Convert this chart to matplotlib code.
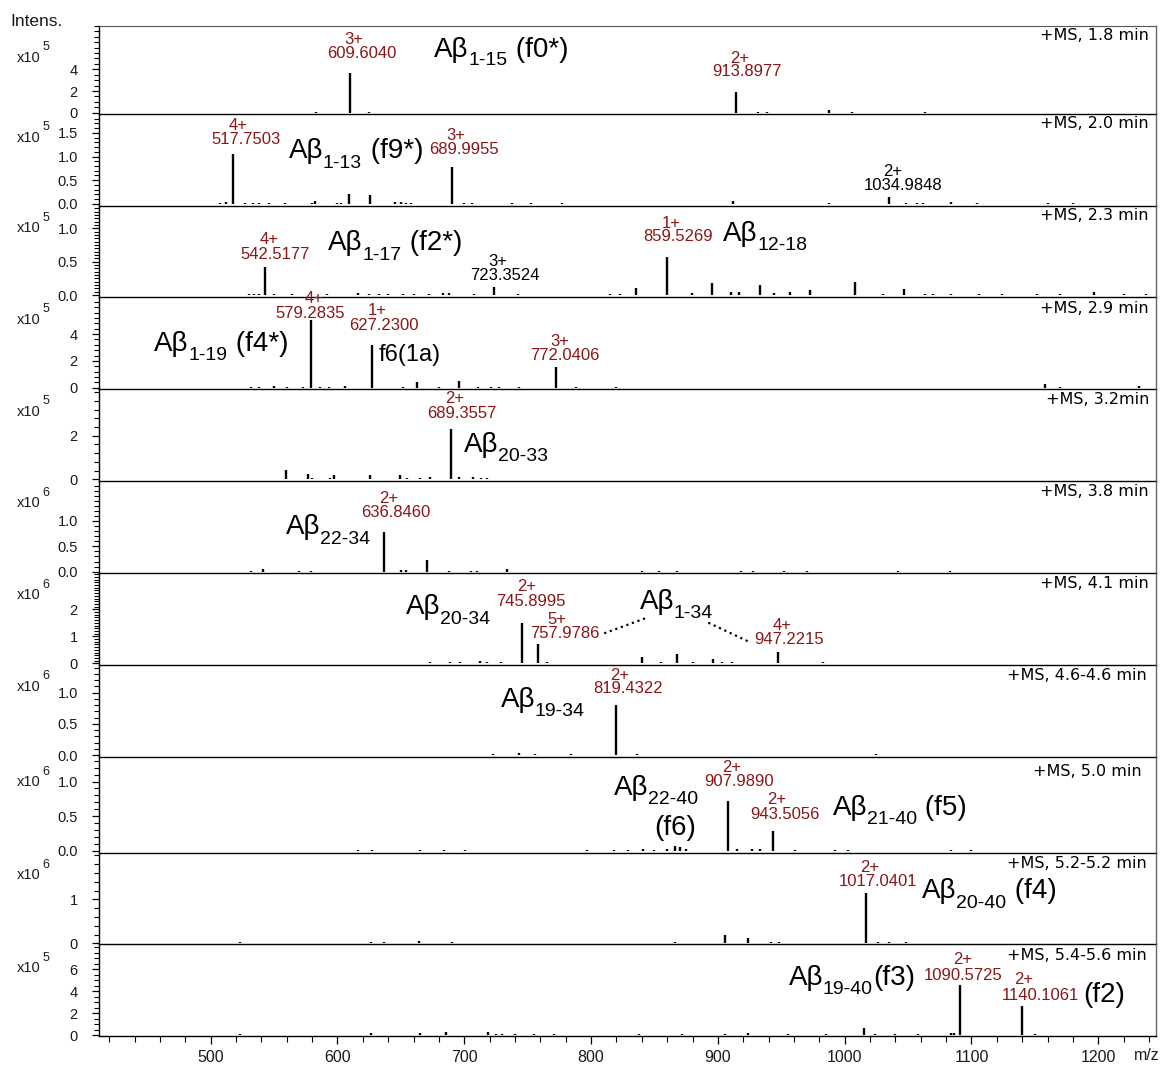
import matplotlib
matplotlib.use('Agg')
import matplotlib.pyplot as plt
from matplotlib.ticker import AutoMinorLocator, FixedLocator, MultipleLocator, NullLocator
from matplotlib.lines import Line2D

plt.rcParams['font.family'] = ['Liberation Sans', 'DejaVu Sans']

# ---------------- data ----------------
scan_labels = ['+MS, 1.8 min', '+MS, 2.0 min', '+MS, 2.3 min', '+MS, 2.9 min', '+MS, 3.2min',
               '+MS, 3.8 min', '+MS, 4.1 min', '+MS, 4.6-4.6 min', '+MS, 5.0 min',
               '+MS, 5.2-5.2 min', '+MS, 5.4-5.6 min']
exponents = ['5', '5', '5', '5', '5', '6', '6', '6', '6', '6', '5']
y_ticks = [[0, 2, 4], [0.0, 0.5, 1.0, 1.5], [0.0, 0.5, 1.0], [0, 2, 4], [0, 2],
           [0.0, 0.5, 1.0], [0, 1, 2], [0.0, 0.5, 1.0], [0.0, 0.5, 1.0], [0, 1], [0, 2, 4, 6]]
y_tick_text = [['0', '2', '4'], ['0.0', '0.5', '1.0', '1.5'], ['0.0', '0.5', '1.0'], ['0', '2', '4'],
               ['0', '2'], ['0.0', '0.5', '1.0'], ['0', '1', '2'], ['0.0', '0.5', '1.0'],
               ['0.0', '0.5', '1.0'], ['0', '1'], ['0', '2', '4', '6']]
y_top = [8.02, 1.895, 1.34, 6.79, 4.14, 1.795, 3.36, 1.445, 1.36, 2.06, 8.31]
y_bottom = [-0.12, -0.036, -0.025, -0.10, -0.064, -0.02, -0.063, -0.027, -0.03, -0.016, -0.06]
y_minor = [4, 5, 10, 5, 5, 5, 10, 5, 5, 5, 4]

x_ticks = [500, 600, 700, 800, 900, 1000, 1100, 1200]
x_range = [411.7, 1245.5]

# peaks: m/z and intensity (in units of 10^exponent)
mz_1 = [583, 609.60, 625, 913.90, 931.5, 939, 988, 1006, 1063]
in_1 = [0.08, 3.69, 0.10, 1.94, 0.08, 0.06, 0.25, 0.05, 0.04]

mz_2 = [507, 512, 517.75, 527, 533, 538, 546, 559, 580, 582.5, 600, 603, 609, 626, 645, 650, 654,
        658, 690.00, 700, 706, 738, 753, 777, 912, 988, 1034.98, 1048, 1057, 1062, 1084, 1104, 1160, 1180]
in_2 = [0.02, 0.05, 1.05, 0.02, 0.02, 0.02, 0.02, 0.02, 0.02, 0.06, 0.03, 0.03, 0.21, 0.19, 0.04, 0.05,
        0.03, 0.02, 0.785, 0.03, 0.03, 0.02, 0.015, 0.015, 0.06, 0.02, 0.15, 0.02, 0.02, 0.02, 0.05, 0.02,
        0.015, 0.015]

mz_3 = [530, 534, 538, 542.52, 550, 564, 592, 616, 625, 633, 640, 652, 660, 672, 683, 688, 708, 723.35,
        742, 815, 823, 835.5, 859.53, 879.5, 895, 910, 917, 933.5, 944, 957, 972.7, 1008, 1030, 1046.5,
        1063, 1070, 1084, 1106, 1124, 1152, 1170, 1197, 1220, 1238]
in_3 = [0.02, 0.02, 0.015, 0.42, 0.01, 0.015, 0.015, 0.03, 0.01, 0.01, 0.015, 0.015, 0.01, 0.01, 0.03,
        0.03, 0.015, 0.125, 0.01, 0.01, 0.01, 0.10, 0.575, 0.03, 0.185, 0.04, 0.04, 0.15, 0.03, 0.05, 0.07,
        0.20, 0.02, 0.09, 0.02, 0.02, 0.02, 0.015, 0.015, 0.015, 0.015, 0.04, 0.015, 0.02]

mz_4 = [532, 538, 550, 560, 572.5, 579.28, 586, 593, 606, 627.23, 652, 663, 680, 696, 711, 721, 727,
        743, 772.04, 788, 820, 1157.6, 1170, 1232]
in_4 = [0.05, 0.05, 0.15, 0.03, 0.05, 5.05, 0.05, 0.04, 0.15, 3.19, 0.04, 0.42, 0.03, 0.52, 0.04, 0.04,
        0.03, 0.04, 1.57, 0.04, 0.04, 0.30, 0.03, 0.10]

mz_5 = [559.6, 577, 580, 594, 597.6, 625.5, 649.6, 655, 665, 673, 689.36, 696, 706.5, 713, 718, 734,
        769, 814, 1076, 1190]
in_5 = [0.42, 0.26, 0.08, 0.04, 0.20, 0.20, 0.18, 0.06, 0.06, 0.10, 2.29, 0.12, 0.12, 0.04, 0.04, 0.03,
        0.03, 0.02, 0.02, 0.02]

mz_6 = [532, 541, 570, 579, 636.85, 650, 654, 670.5, 688, 705, 710, 734, 840, 853.5, 867.5, 918, 928,
        952, 970, 1042, 1083]
in_6 = [0.015, 0.06, 0.02, 0.02, 0.79, 0.03, 0.03, 0.23, 0.02, 0.02, 0.02, 0.05, 0.015, 0.015, 0.02,
        0.015, 0.015, 0.01, 0.015, 0.01, 0.015]

mz_7 = [634, 649.6, 673, 688.6, 697, 712.6, 718, 729, 745.90, 757.98, 765, 784, 840, 855, 867.5, 880,
        896, 903, 911, 926, 947.22, 983, 1124.8]
in_7 = [0.02, 0.02, 0.03, 0.05, 0.03, 0.07, 0.06, 0.06, 1.48, 0.71, 0.05, 0.02, 0.22, 0.03, 0.34, 0.03,
        0.16, 0.05, 0.04, 0.02, 0.43, 0.03, 0.02]

mz_8 = [723, 743.5, 755.5, 784, 819.43, 836, 1024.4]
in_8 = [0.015, 0.03, 0.015, 0.01, 0.80, 0.02, 0.01]

mz_9 = [616, 627.5, 665, 684, 700.8, 796.9, 817.7, 829, 841, 850, 860, 866.5, 870, 875, 907.99, 915,
        927, 933, 943.51, 960.6, 992, 1002.5, 1084, 1100]
in_9 = [0.01, 0.01, 0.015, 0.01, 0.01, 0.01, 0.015, 0.01, 0.03, 0.015, 0.02, 0.07, 0.05, 0.02, 0.725,
        0.03, 0.02, 0.02, 0.285, 0.015, 0.01, 0.01, 0.01, 0.01]

mz_10 = [523.5, 626.8, 637, 664.5, 690, 841, 866.5, 906, 924, 942, 948, 960, 988, 1017.04, 1026, 1035,
         1048]
in_10 = [0.02, 0.02, 0.04, 0.06, 0.02, 0.015, 0.02, 0.19, 0.11, 0.04, 0.02, 0.015, 0.015, 1.15, 0.04,
         0.03, 0.03]

mz_11 = [523.5, 626.8, 665, 685.6, 718.7, 725, 730, 740, 755, 771, 838, 872, 906, 924, 955, 985,
         1015.5, 1024, 1040, 1058, 1083.5, 1086.5, 1090.57, 1140.11, 1150]
in_11 = [0.05, 0.15, 0.20, 0.30, 0.25, 0.08, 0.06, 0.06, 0.05, 0.05, 0.06, 0.05, 0.12, 0.20, 0.05,
         0.06, 0.61, 0.08, 0.05, 0.05, 0.15, 0.20, 4.57, 2.65, 0.05]

all_mz = [mz_1, mz_2, mz_3, mz_4, mz_5, mz_6, mz_7, mz_8, mz_9, mz_10, mz_11]
all_in = [in_1, in_2, in_3, in_4, in_5, in_6, in_7, in_8, in_9, in_10, in_11]

# ---------------- layout ----------------
W, H = 1163, 1066
fig = plt.figure(figsize=(W / 100, H / 100), dpi=100)
renderer = fig.canvas.get_renderer()
sep = [25.7, 114, 205.7, 296.7, 389, 480.7, 572.7, 665, 756.7, 852.7, 944, 1035.7]
x_left, x_right = 98.7, 1156.0
RED = '#8c1515'
TXT = '#1a1a1a'


def fx(x):
    return x / W


def fy(y):
    return 1 - y / H


axes = []
for i in range(11):
    top, bot = sep[i], sep[i + 1]
    ax = fig.add_axes([fx(x_left), fy(bot), (x_right - x_left) / W, (bot - top) / H])
    axes.append(ax)
    ax.vlines(all_mz[i], 0, all_in[i], color='black', lw=1.7)
    ax.set_xlim(*x_range)
    ax.set_ylim(y_bottom[i], y_top[i])
    ax.yaxis.set_major_locator(FixedLocator(y_ticks[i]))
    ax.set_yticklabels(y_tick_text[i])
    ax.yaxis.set_minor_locator(AutoMinorLocator(y_minor[i]))
    ax.tick_params(axis='y', which='major', direction='out', length=5, width=0.9,
                   labelsize=10.5, pad=10, colors='black', labelcolor=TXT)
    ax.tick_params(axis='y', which='minor', direction='out', length=3.5, width=0.8)
    for s in ['left', 'bottom']:
        ax.spines[s].set_color('black')
        ax.spines[s].set_linewidth(1.0)
    ax.spines['right'].set_color('#666666')
    ax.spines['right'].set_linewidth(1.0)
    ax.spines['top'].set_visible(i == 0)
    ax.spines['top'].set_color('#555555')
    if i < 10:
        ax.xaxis.set_major_locator(NullLocator())
        ax.xaxis.set_minor_locator(NullLocator())
    else:
        ax.xaxis.set_major_locator(FixedLocator(x_ticks))
        ax.xaxis.set_minor_locator(MultipleLocator(20))
        ax.tick_params(axis='x', which='major', direction='out', length=6, width=0.9,
                       labelsize=11.5, pad=4, labelcolor=TXT)
        ax.tick_params(axis='x', which='minor', direction='out', length=4, width=0.8)
    ax.patch.set_alpha(0)

# exponent labels and scan labels
exp_y = [58, 137.7, 228.3, 320, 411.7, 503.3, 595, 686.7, 782.3, 875, 968.3]
scan_y = [36, 124, 216, 308.3, 400, 491.7, 583.3, 676, 771, 863.3, 956]
scan_x = [1149, 1149, 1149, 1149, 1149, 1149, 1149, 1147, 1142, 1147, 1147]
for i in range(11):
    tx = fig.text(fx(17), fy(exp_y[i]), 'x10', fontsize=10.5, ha='left', va='center', color=TXT)
    xe = tx.get_window_extent(renderer).x1
    fig.text(fx(xe + 1.5), fy(exp_y[i] - 10.5), exponents[i], fontsize=9, ha='left', va='center',
             color=TXT)
    fig.text(fx(scan_x[i]), fy(scan_y[i]), scan_labels[i], fontsize=11.5, family='DejaVu Sans',
             ha='right', va='center', color='black')

fig.text(fx(10), fy(21), 'Intens.', fontsize=12.5, ha='left', va='center', color=TXT)
fig.text(fx(1147), fy(1056), 'm/z', fontsize=11.5, ha='center', va='center', color=TXT)


def ann(x, y, s, color=RED, size=12):
    fig.text(fx(x), fy(y), s, fontsize=size, color=color, ha='center', va='center')


def big(x, yb, main, sub=None, suffix=None, size=20, drop=9.5):
    t = fig.text(fx(x), fy(yb), main, fontsize=size, color='black', ha='left', va='baseline')
    xe = t.get_window_extent(renderer).x1
    if sub is not None:
        ts = fig.text(fx(xe - 0.5), fy(yb + drop), sub, fontsize=size * 0.7, color='black',
                      ha='left', va='baseline')
        xe = ts.get_window_extent(renderer).x1
    if suffix is not None:
        fig.text(fx(xe + 0.5), fy(yb), suffix, fontsize=size, color='black', ha='left', va='baseline')


# charge-state / m/z annotations
ann(354, 39.3, '3+'); ann(361.7, 53.3, '609.6040')
ann(739.9, 58.3, '2+'); ann(747.3, 71.7, '913.8977')
ann(238, 126, '4+'); ann(245.7, 140, '517.7503')
ann(456, 135, '3+'); ann(463.8, 150, '689.9955')
ann(893, 171.7, '2+', color='black'); ann(902.7, 185, '1034.9848', color='black')
ann(268.7, 240, '4+'); ann(275.5, 254, '542.5177')
ann(498.3, 261.7, '3+', color='black'); ann(505.2, 276, '723.3524', color='black')
ann(671, 223.3, '1+'); ann(678.5, 236.7, '859.5269')
ann(314.6, 298.3, '4+'); ann(310, 313.3, '579.2835')
ann(377, 310.7, '1+'); ann(383.5, 325, '627.2300')
ann(559.5, 341.7, '3+'); ann(564.5, 355.7, '772.0406')
ann(454.7, 398.3, '2+'); ann(462.3, 413.3, '689.3557')
ann(388.4, 498.3, '2+'); ann(395.3, 512.7, '636.8460')
ann(527, 586.7, '2+'); ann(530.8, 601.7, '745.8995')
ann(556.8, 620, '5+'); ann(564.5, 634, '757.9786')
ann(781.9, 625, '4+'); ann(789.3, 640, '947.2215')
ann(620.1, 675, '2+'); ann(627.6, 688.3, '819.4322')
ann(731.7, 767.3, '2+'); ann(739.1, 781.7, '907.9890')
ann(777, 800, '2+'); ann(784.5, 814.3, '943.5056')
ann(869.2, 867.3, '2+'); ann(878.5, 881.7, '1017.0401')
ann(962.9, 960, '2+'); ann(962.9, 976, '1090.5725')
ann(1024, 979.5, '2+'); ann(1039.9, 995, '1140.1061')

# fragment labels
big(434, 57.3, 'Aβ', '1-15', ' (f0*)', drop=8)
big(289, 158.3, 'Aβ', '1-13', ' (f9*)')
big(328.4, 250, 'Aβ', '1-17', ' (f2*)')
big(723.1, 240.7, 'Aβ', '12-18')
big(154.2, 350.7, 'Aβ', '1-19', ' (f4*)')
big(378.9, 361, 'f6(1a)', size=17)
big(464.2, 451.7, 'Aβ', '20-33')
big(286.3, 534, 'Aβ', '22-34')
big(406.4, 614.3, 'Aβ', '20-34')
big(639.5, 609, 'Aβ', '1-34')
big(500.6, 706.7, 'Aβ', '19-34')
big(614.2, 795, 'Aβ', '22-40')
fig.text(fx(674.8), fy(835), '(f6)', fontsize=20, ha='center', va='baseline')
big(832.8, 815, 'Aβ', '21-40', ' (f5)')
big(922, 898.3, 'Aβ', '20-40', ' (f4)')
big(788.9, 985, 'Aβ', '19-40', '(f3)')
big(1083.7, 1001.7, '(f2)')

# dotted connectors for Aβ1-34
fig.add_artist(Line2D([fx(604.2), fx(646.9)], [fy(633.3), fy(617.7)], ls=':', lw=1.6, color='black'))
fig.add_artist(Line2D([fx(708.3), fx(751)], [fy(622.7), fy(642.7)], ls=':', lw=1.6, color='black'))

fig.savefig('out.png', dpi=100)
